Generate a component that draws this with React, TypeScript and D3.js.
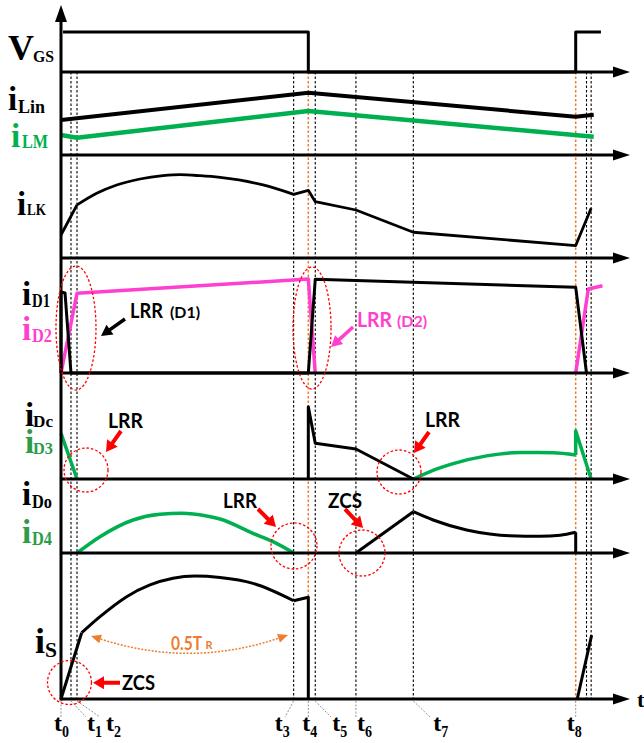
import React from 'react';
import * as d3 from 'd3';

type Pt = [number, number];

// Switching instants t0..t8 (time units, t8 = 100)
const eventTimes = [0, 1.94, 3.11, 45.2, 48.05, 49.4, 57.3, 68.45, 100];
const eventNames = ['0', '1', '2', '3', '4', '5', '6', '7', '8'];
const orangeEvents = [4, 8];
// start of the next switching cycle after t8
const nextCycleTimes = [102.1, 103.0];
const axisEnd = 110.55;

// Waveforms: [time, level in % of the trace height]
const vgsWave: Pt[] = [[0.4, 100], [48.05, 100], [48.05, 0], [100, 0], [100, 100], [104.9, 100]];

const iLinWave: Pt[] = [[0, 42.2], [48.05, 75.1], [100, 46.1], [103.5, 48.6]];
const iLmWave: Pt[] = [[0, 24.1], [3.11, 20.8], [48.05, 53.0], [103.5, 22.0]];

const iLkRise: Pt[] = [[0, 22.3], [3.11, 51.5]];
const iLkArc: Pt[] = [[3.11, 51.5], [6.94, 62.8], [10.82, 70.9], [15.35, 76.7], [19.82, 79.9], [23.12, 80.9], [27.0, 79.9], [30.9, 78.2], [39.25, 70.9], [45.2, 61.8]];
const iLkTail: Pt[] = [[45.2, 61.8], [48.05, 65.7], [49.4, 54.7], [57.3, 46.6], [68.45, 25.0], [100, 12.1], [103.0, 48.3]];

const iD1Wave: Pt[] = [[0, 0], [0, 70.4], [0.78, 69.6], [1.94, 0], [48.05, 0], [49.4, 81.5], [100, 74.5], [102.1, 0]];
const iD2First: Pt[] = [[0, 0], [3.11, 69.3], [48.05, 81.7], [49.4, 0]];
const iD2Next: Pt[] = [[100, 0], [102.45, 73.0], [105.2, 75.9]];

const iDcWave: Pt[] = [[48.05, 0], [48.05, 68.2], [49.4, 33.7], [57.3, 28.3], [68.45, 0]];
const iD3Decay: Pt[] = [[0, 43.1], [3.11, 0]];
const iD3Arc: Pt[] = [[68.45, 0], [73.6, 10.5], [76.2, 14.5], [82.7, 21.8], [89.2, 25.0], [95.6, 24.8], [100, 22.6]];
const iD3Spike: Pt[] = [[100, 22.6], [100, 45.6], [103.0, 0]];

const iD4Arc: Pt[] = [[3.11, 0], [7.58, 22.0], [13.99, 44.6], [19.23, 52.3], [23.45, 53.6], [28.3, 50.0], [30.9, 45.9], [37.3, 26.6], [41.2, 15.3], [45.2, 0]];
const iDoRise: Pt[] = [[57.3, 0], [68.45, 55.8]];
const iDoDecay: Pt[] = [[68.45, 55.8], [72.3, 44.6], [78.8, 31.1], [83.3, 25.7], [87.2, 23.3], [93.1, 22.5], [97.0, 24.0], [100, 28.0]];
const iDoDrop: Pt[] = [[100, 28.0], [100, 0]];

const iSRise: Pt[] = [[0, 0], [4.02, 45.4]];
const iSArc: Pt[] = [[4.02, 45.4], [7.58, 56.4], [12.76, 70.1], [17.29, 78.1], [21.76, 82.7], [26.0, 84.2], [30.9, 83.2], [37.3, 79.2], [45.2, 67.3]];
const iSOff: Pt[] = [[45.2, 67.3], [48.05, 69.7], [48.05, 0]];
const iSNext: Pt[] = [[100.3, 0], [103.1, 43.8]];

// Trace baselines and heights (px)
const panelBase = [72, 155, 258, 373, 479, 553, 699];
const panelSpan = [40, 83, 103, 115, 106, 74, 146];

// Time-label placement relative to each instant
const labelShift = [-7, 16, 29, -19, -6, 17, 1, 20, -9];
const leaderShift = [0, 15, 23, -8.7, 0, 15.7, 0, 16.7, 0];

const BLACK = '#000';
const GREEN = '#00B050';
const GREEN_TXT = '#2E9B48';
const MAGENTA = '#FF3FD0';
const ORANGE = '#ED7D31';
const RED = '#FF0000';
const SERIF = '"Liberation Serif", "Times New Roman", serif';
const SANS = 'Lato, "Open Sans", sans-serif';

function arrowPoly(x1: number, y1: number, x2: number, y2: number, shaft: number, headL: number, headW: number) {
  const dx = x2 - x1;
  const dy = y2 - y1;
  const len = Math.hypot(dx, dy);
  const ux = dx / len;
  const uy = dy / len;
  const nx = -uy;
  const ny = ux;
  const bx = x2 - ux * headL;
  const by = y2 - uy * headL;
  const p = (px: number, py: number) => `${px},${py}`;
  return [
    p(x1 + nx * shaft / 2, y1 + ny * shaft / 2),
    p(bx + nx * shaft / 2, by + ny * shaft / 2),
    p(bx + nx * headW / 2, by + ny * headW / 2),
    p(x2, y2),
    p(bx - nx * headW / 2, by - ny * headW / 2),
    p(bx - nx * shaft / 2, by - ny * shaft / 2),
    p(x1 - nx * shaft / 2, y1 - ny * shaft / 2),
  ].join(' ');
}

function SigLabel(props: { x: number; y: number; main: string; sub: string; sx: number; sy: number; sw: number; size?: number; subSize?: number; color?: string }) {
  const { x, y, main, sub, sx, sy, sw, size = 33, subSize = 18, color = BLACK } = props;
  return (
    <g fill={color} fontFamily={SERIF} fontWeight="bold">
      <text x={x} y={y} fontSize={size}>{main}</text>
      <text x={sx} y={sy} fontSize={subSize} textLength={sw} lengthAdjust="spacingAndGlyphs">{sub}</text>
    </g>
  );
}

function Note(props: { x: number; y: number; text: string; w: number; size?: number; color?: string }) {
  const { x, y, text, w, size = 21, color = BLACK } = props;
  return (
    <text x={x} y={y} fontSize={size} fill={color} fontFamily={SANS} fontWeight="bold"
      textLength={w} lengthAdjust="spacingAndGlyphs">{text}</text>
  );
}

export default function App() {
  const x = d3.scaleLinear().domain([0, 100]).range([61, 575.7]);
  const ys = panelBase.map((b, i) => d3.scaleLinear().domain([0, 100]).range([b, b - panelSpan[i]]));
  const [yV, yLin, yLk, yD, yDc, yDo, yS] = ys;

  const mk = (ysc: d3.ScaleLinear<number, number>, curve: d3.CurveFactory) =>
    d3.line<Pt>().x(d => x(d[0])).y(d => ysc(d[1])).curve(curve);
  const straight = (ysc: d3.ScaleLinear<number, number>, pts: Pt[]) => mk(ysc, d3.curveLinear)(pts) || '';
  const smooth = (ysc: d3.ScaleLinear<number, number>, pts: Pt[]) => mk(ysc, d3.curveMonotoneX)(pts) || '';

  const x0 = x(0);
  const xEnd = x(axisEnd);
  const top = panelBase[0];
  const bottom = panelBase[panelBase.length - 1];

  const wave = (d: string, color: string, w: number, key: string) => (
    <path key={key} d={d} fill="none" stroke={color} strokeWidth={w} strokeLinejoin="round" strokeLinecap="butt" />
  );

  // 0.5 T_R resonance-interval marker in the switch-current trace
  const trA: Pt = [5.83, 43.2];
  const trB: Pt = [44.1, 43.8];
  const trC: Pt = [25.06, 21.2];
  const ax = x(trA[0]), ay = yS(trA[1]);
  const bx = x(trB[0]), by = yS(trB[1]);
  const cx = x(trC[0]), cy = yS(trC[1]);
  const headAt = (px: number, py: number, fx: number, fy: number) => {
    const dx = px - fx, dy = py - fy;
    const l = Math.hypot(dx, dy);
    const ux = dx / l, uy = dy / l;
    const L = 10, W = 9;
    const bX = px - ux * L, bY = py - uy * L;
    return {
      poly: `${px},${py} ${bX - uy * W / 2},${bY + ux * W / 2} ${bX + uy * W / 2},${bY - ux * W / 2}`,
      base: [bX, bY] as Pt,
    };
  };
  const hA = headAt(ax, ay, cx, cy);
  const hB = headAt(bx, by, cx, cy);
  const trPath = d3.path();
  trPath.moveTo(hA.base[0], hA.base[1]);
  trPath.quadraticCurveTo(cx, cy, hB.base[0], hB.base[1]);

  return (
    <svg width={644} height={743} style={{ position: 'absolute', left: 0, top: 0, background: '#fff' }}>
      <rect x={0} y={0} width={644} height={743} fill="#fff" />

      {/* instant markers */}
      {eventTimes.map((t, i) =>
        i === 0 ? null : (
          <line key={`ev${i}`} x1={x(t)} x2={x(t)} y1={top} y2={bottom}
            stroke={orangeEvents.includes(i) ? ORANGE : BLACK}
            strokeWidth={orangeEvents.includes(i) ? 1.5 : 1.1} strokeDasharray="2.5,2" />
        ))}
      {nextCycleTimes.map((t, i) => (
        <line key={`nc${i}`} x1={x(t)} x2={x(t)} y1={top} y2={bottom} stroke={BLACK} strokeWidth={1.1} strokeDasharray="2.5,2" />
      ))}

      {/* leaders to instant labels */}
      {eventTimes.map((t, i) => (
        <line key={`ld${i}`} x1={x(t)} y1={bottom + 2} x2={x(t) + leaderShift[i]} y2={bottom + 18}
          stroke="#888" strokeWidth={0.9} strokeDasharray="2,1.5" />
      ))}

      {/* waveforms */}
      {wave(straight(yV, vgsWave), BLACK, 3, 'vgs')}

      {wave(straight(yLin, iLinWave), BLACK, 4, 'ilin')}
      {wave(straight(yLin, iLmWave), GREEN, 4.5, 'ilm')}

      {wave(straight(yLk, iLkRise), BLACK, 2.8, 'lk1')}
      {wave(smooth(yLk, iLkArc), BLACK, 2.8, 'lk2')}
      {wave(straight(yLk, iLkTail), BLACK, 2.8, 'lk3')}

      {wave(straight(yD, iD2First), MAGENTA, 3.5, 'd2a')}
      {wave(straight(yD, iD2Next), MAGENTA, 3.5, 'd2b')}
      {wave(straight(yD, iD1Wave), BLACK, 3, 'd1')}

      {wave(straight(yDc, iD3Decay), GREEN, 3.5, 'd3a')}
      {wave(smooth(yDc, iD3Arc), GREEN, 3.5, 'd3b')}
      {wave(straight(yDc, iD3Spike), GREEN, 3.5, 'd3c')}
      {wave(straight(yDc, iDcWave), BLACK, 3, 'dc')}

      {wave(smooth(yDo, iD4Arc), GREEN, 3.5, 'd4')}
      {wave(straight(yDo, iDoRise), BLACK, 3, 'do1')}
      {wave(smooth(yDo, iDoDecay), BLACK, 3, 'do2')}
      {wave(straight(yDo, iDoDrop), BLACK, 3, 'do3')}

      {wave(straight(yS, iSRise), BLACK, 3, 's1')}
      {wave(smooth(yS, iSArc), BLACK, 3, 's2')}
      {wave(straight(yS, iSOff), BLACK, 3, 's3')}
      {wave(straight(yS, iSNext), BLACK, 3, 's4')}

      {/* axes */}
      {panelBase.map((b, i) => (
        <g key={`ax${i}`}>
          <line x1={x0} x2={xEnd - 16} y1={b} y2={b} stroke={BLACK} strokeWidth={3} />
          <polygon points={`${xEnd},${b} ${xEnd - 17},${b - 5.5} ${xEnd - 17},${b + 5.5}`} fill={BLACK} />
        </g>
      ))}
      <line x1={x0} x2={x0} y1={bottom + 1.5} y2={20} stroke={BLACK} strokeWidth={3} />
      <polygon points={`${x0},5 ${x0 - 6},22 ${x0 + 6},22`} fill={BLACK} />
      <text x={637} y={707} fontFamily={SERIF} fontWeight="bold" fontSize={22}>t</text>

      {/* instant labels */}
      {eventTimes.map((t, i) => (
        <g key={`tl${i}`} fontFamily={SERIF} fontWeight="bold">
          <text x={x(t) + labelShift[i]} y={731} fontSize={24}>t</text>
          <text x={x(t) + labelShift[i] + 8} y={737} fontSize={16} textLength={7} lengthAdjust="spacingAndGlyphs">{eventNames[i]}</text>
        </g>
      ))}

      {/* trace names */}
      <SigLabel x={8} y={60} main="V" sub="GS" sx={33} sy={62} sw={21} size={36} subSize={17} />
      <SigLabel x={8} y={110} main="i" sub="Lin" sx={18} sy={113} sw={27} />
      <SigLabel x={11} y={147} main="i" sub="LM" sx={22} sy={148} sw={26} color={GREEN} />
      <SigLabel x={17} y={215} main="i" sub="LK" sx={27} sy={215} sw={19} subSize={16} />
      <SigLabel x={22} y={305} main="i" sub="D1" sx={32} sy={307} sw={18} />
      <SigLabel x={22} y={340} main="i" sub="D2" sx={32} sy={342} sw={20} color={MAGENTA} />
      <SigLabel x={25} y={426} main="i" sub="Dc" sx={33} sy={427} sw={20} subSize={17} />
      <SigLabel x={25} y={453} main="i" sub="D3" sx={33} sy={454} sw={20} subSize={17} color={GREEN_TXT} />
      <SigLabel x={22} y={505} main="i" sub="Do" sx={32} sy={508} sw={20} />
      <SigLabel x={22} y={543} main="i" sub="D4" sx={32} sy={545} sw={20} color={GREEN_TXT} />
      <SigLabel x={35} y={653} main="i" sub="S" sx={45} sy={657} sw={12} size={36} subSize={22} />

      {/* reverse-recovery / ZCS callouts */}
      <g fill="none" stroke={RED} strokeWidth={1.3} strokeDasharray="2.5,2">
        <ellipse cx={x(2.91)} cy={yD(39.1)} rx={20} ry={62} />
        <ellipse cx={x(48.77)} cy={yD(39.1)} rx={19} ry={61} />
        <circle cx={x(4.86)} cy={yDc(8.5)} r={22} />
        <circle cx={x(65.67)} cy={yDc(6.6)} r={22} />
        <circle cx={x(45.27)} cy={yDo(9.5)} r={23} />
        <circle cx={x(58.48)} cy={yDo(0)} r={23} />
        <circle cx={x(1.65)} cy={yS(11.3)} r={22} />
      </g>

      <polygon points={arrowPoly(125, 319, 101, 336, 3.5, 11, 12)} fill={BLACK} />
      <polygon points={arrowPoly(353, 327, 331, 347, 3.5, 11, 12)} fill={MAGENTA} />
      <polygon points={arrowPoly(121, 431, 106, 452, 4, 11, 13)} fill={RED} />
      <polygon points={arrowPoly(429, 432, 414, 453, 4, 11, 13)} fill={RED} />
      <polygon points={arrowPoly(258, 509, 276, 527, 4, 11, 13)} fill={RED} />
      <polygon points={arrowPoly(345, 509, 363, 528, 4, 11, 13)} fill={RED} />
      <polygon points={arrowPoly(120, 682.7, 93, 682.7, 4, 11, 13)} fill={RED} />

      <Note x={130} y={318} text="LRR" w={33} />
      <Note x={170} y={318} text="(D1)" w={30} size={15} />
      <Note x={357} y={327} text="LRR" w={35} color={MAGENTA} />
      <Note x={397} y={327} text="(D2)" w={30} size={15} color={MAGENTA} />
      <Note x={108} y={428} text="LRR" w={35} />
      <Note x={425} y={427} text="LRR" w={35} />
      <Note x={223} y={508} text="LRR" w={34} />
      <Note x={328} y={508} text="ZCS" w={34} />
      <Note x={122} y={690} text="ZCS" w={33} />

      {/* 0.5 T_R marker */}
      <path d={trPath.toString()} fill="none" stroke={ORANGE} strokeWidth={1.5} strokeDasharray="2,1.5" />
      <polygon points={hA.poly} fill={ORANGE} />
      <polygon points={hB.poly} fill={ORANGE} />
      <Note x={171} y={650} text="0.5T" w={31} size={18} color={ORANGE} />
      <Note x={205.5} y={649} text="R" w={7} size={11} color={ORANGE} />
    </svg>
  );
}
